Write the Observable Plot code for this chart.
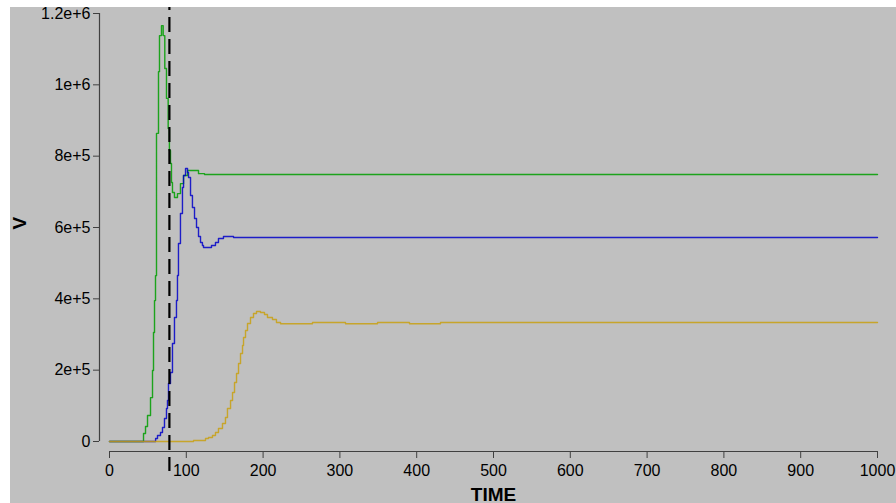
<!DOCTYPE html>
<html>
<head>
<meta charset="utf-8">
<script src="https://cdn.jsdelivr.net/npm/d3@7"></script>
<script src="https://cdn.jsdelivr.net/npm/@observablehq/plot@0.6"></script>
<style>
  html, body { margin: 0; padding: 0; background: #ffffff; }
  #chart svg { display: block; margin: 7px 0 0 10px; overflow: visible; }
</style>
</head>
<body>
<div id="chart"></div>
<script>
// Tick values
const xTicks = [0, 100, 200, 300, 400, 500, 600, 700, 800, 900, 1000];
const yTicks = [0, 200000, 400000, 600000, 800000, 1000000, 1200000];

// Series: green
const greenT = [0, 38, 44.3, 46.9, 49.5, 53.4, 56, 57.3, 58.6, 59.9, 61.2, 63.8, 65.1, 67.7, 69.9, 72, 74.2, 76.4, 78, 79.4, 80.7, 82, 84.6, 88.5, 92.4, 96.4, 101.6, 115.9, 123.7, 1000];
const greenV = [0, 0, 22400, 42000, 73000, 123000, 199000, 305600, 395000, 465000, 864000, 1037000, 1138000, 1166000, 1138000, 1046000, 962000, 877600, 816000, 779500, 726000, 698000, 684000, 695000, 723000, 746000, 760000, 751000, 748700, 748700];

// Series: blue
const blueT = [0, 56, 60, 62.5, 66.4, 69, 71.6, 74.2, 75.5, 76.8, 79.4, 82, 84.6, 87.2, 88.5, 89.8, 92.4, 95, 96.4, 99, 101.6, 102.9, 105.5, 108, 110.7, 113.3, 115.9, 118.5, 121, 122.4, 132.8, 138, 141.9, 148.4, 161.5, 1000];
const blueV = [0, 0, 8400, 16800, 25200, 39300, 64500, 92500, 115000, 162600, 193500, 274800, 347700, 395400, 465500, 555200, 639300, 712200, 745900, 765500, 754300, 740300, 689800, 656100, 625300, 600000, 574800, 558000, 549600, 544000, 549600, 558000, 569200, 574800, 572000, 572000];

// Series: gold
const goldT = [0, 109.4, 125, 128.9, 134.1, 138, 141.9, 147.1, 151, 153.6, 157.6, 160.2, 162.8, 165.4, 168, 170.6, 173.2, 174.5, 177.1, 179.7, 183.6, 187.5, 191.4, 196.6, 201.8, 205.7, 212.2, 217.4, 222.7, 264.3, 307.3, 349, 390.6, 431, 1000];
const goldV = [0, 2800, 8400, 11200, 16800, 25200, 36500, 50500, 67300, 92500, 115000, 137400, 165400, 190700, 218700, 246800, 269200, 291600, 311200, 330900, 347700, 358900, 364500, 361700, 356100, 347700, 342100, 333700, 330000, 333700, 330000, 333700, 330000, 333700, 333700];

// Vertical marker time
const markerTime = [78];

const toRows = (T, V) => T.map((t, i) => ({t, v: V[i]}));
const green = toRows(greenT, greenV);
const blue = toRows(blueT, blueV);
const gold = toRows(goldT, goldV);

const fmt = d => d === 0 ? "0" : d.toExponential();

const chart = Plot.plot({
  width: 886,
  height: 496,
  marginTop: 0,
  marginBottom: 52,
  marginLeft: 89,
  marginRight: 19,
  style: {
    background: "#c0c0c0",
    fontFamily: "'Liberation Sans', Arial, sans-serif",
    fontSize: "16px",
    color: "#000",
    overflow: "visible"
  },
  x: {domain: [0, 1000], range: [99, 867], axis: null},
  y: {domain: [0, 1200000], range: [434, 6], axis: null},
  marks: [
    Plot.axisX(xTicks, {anchor: "bottom", tickSize: 7, tickPadding: 6, tickFormat: d => String(d), stroke: "#404040", fill: "#000", label: null, fontSize: 16}),
    Plot.axisY(yTicks, {anchor: "left", tickSize: 6, tickPadding: 3, tickFormat: fmt, stroke: "#404040", fill: "#000", label: null, fontSize: 16}),
    Plot.ruleY([0], {x1: 0, x2: 1000, dy: 10, stroke: "#404040", strokeWidth: 1.2}),
    Plot.ruleX([0], {y1: 0, y2: 1200000, dx: -10, stroke: "#404040", strokeWidth: 1.2}),
    Plot.line(green, {x: "t", y: "v", stroke: "#0aa00a", strokeWidth: 1.4, strokeOpacity: 0.9, curve: "step-after"}),
    Plot.line(blue, {x: "t", y: "v", stroke: "#0000c8", strokeWidth: 1.4, strokeOpacity: 0.85, curve: "step-after"}),
    Plot.line(gold, {x: "t", y: "v", stroke: "#c8a010", strokeWidth: 1.4, strokeOpacity: 0.85, curve: "step-after"}),
    Plot.ruleX(markerTime, {stroke: "#000", strokeWidth: 2.2, strokeDasharray: "15,7", strokeDashoffset: 12, insetBottom: -20}),
    Plot.text(["V"], {frameAnchor: "left", dx: -80, rotate: -90, text: d => d, fontSize: 19, fontWeight: "bold", fill: "#000"}),
    Plot.text(["TIME"], {x: [500], frameAnchor: "bottom", lineAnchor: "bottom", dy: 49, text: d => d, fontSize: 19, fontWeight: "bold", fill: "#000"})
  ]
});

document.getElementById("chart").appendChild(chart);
</script>
</body>
</html>
